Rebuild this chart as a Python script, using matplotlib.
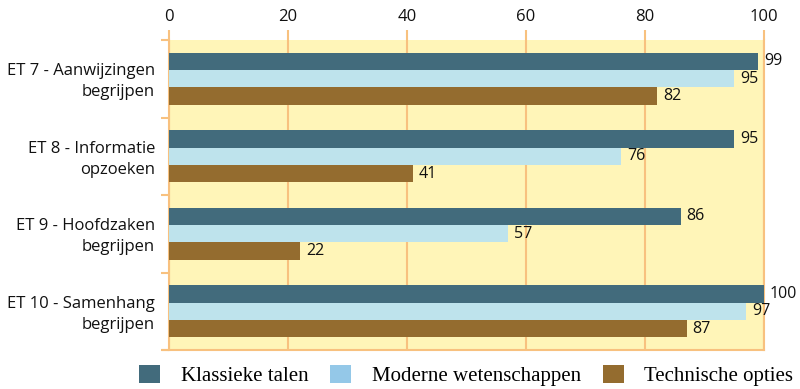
import matplotlib
matplotlib.use("Agg")
import matplotlib.pyplot as plt
import matplotlib.transforms as mtransforms
import numpy as np
from matplotlib.patches import Patch

categories = ["ET 7 - Aanwijzingen\nbegrijpen", "ET 8 - Informatie\nopzoeken",
              "ET 9 - Hoofdzaken\nbegrijpen", "ET 10 - Samenhang\nbegrijpen"]
series_names = ["Klassieke talen", "Moderne wetenschappen", "Technische opties"]
klassieke = [99, 95, 86, 100]
moderne = [95, 76, 57, 97]
technische = [82, 41, 22, 87]
x_ticks = [0, 20, 40, 60, 80, 100]

bar_colors = ["#426b7c", "#bee3ec", "#946c2f"]
legend_colors = ["#426b7c", "#94c8e8", "#946c2f"]
grid_color = "#f8c17f"
bg_color = "#fff5b8"

sans = "Open Sans"

fig = plt.figure(figsize=(8, 3.89), dpi=100)
ax = fig.add_axes([169 / 800, 1 - 350 / 389, (764 - 169) / 800, (350 - 40) / 389])
ax.set_facecolor(bg_color)

n = len(categories)
y = np.arange(n)
h = 0.225
offsets = [-h, 0, h]
for vals, col, off in zip([klassieke, moderne, technische], bar_colors, offsets):
    ax.barh(y + off, vals, height=h, color=col, zorder=3)
    for yi, v in zip(y, vals):
        ax.text(v + 1.0, yi + off, f"{v}", ha="left", va="center",
                fontsize=11.5, family=sans, color="#111111", zorder=4,
                clip_on=False)

ax.set_xlim(0, 100)
ax.set_ylim(n - 0.5, -0.5)
ax.set_xticks(x_ticks)
ax.set_xticklabels([str(t) for t in x_ticks], family=sans, fontsize=12)
ax.xaxis.tick_top()
ax.tick_params(axis="x", which="both", length=7, width=1.5, color=grid_color,
               pad=4, labelcolor="#111111")
ax.grid(axis="x", color=grid_color, linewidth=1.5, zorder=1)

# tick marks only at category boundaries; names drawn as text beside the axis
ax.set_yticks([])
ax.set_yticks(np.arange(n + 1) - 0.5, minor=True)
ax.tick_params(axis="y", which="minor", length=6, width=1.5, color=grid_color)

label_tr = mtransforms.blended_transform_factory(ax.transAxes, ax.transData) + \
    mtransforms.ScaledTranslation(-14 / 100, -3 / 100, fig.dpi_scale_trans)
for yi, name in zip(y, categories):
    ax.text(0, yi, name, transform=label_tr, ha="right", va="center",
            family=sans, fontsize=12, linespacing=1.42, color="#111111",
            multialignment="right")

for s in ["left", "bottom", "right"]:
    ax.spines[s].set_color(grid_color)
    ax.spines[s].set_linewidth(1.5)
ax.spines["top"].set_visible(False)
ax.spines["bottom"].set_bounds(-1.0, 100)

handles = [Patch(facecolor=c, edgecolor="none", label=l)
           for c, l in zip(legend_colors, series_names)]
fig.legend(handles=handles, loc="lower left", bbox_to_anchor=(139 / 800, 1 - 386 / 389),
           ncol=3, frameon=False, prop={"family": "Liberation Serif", "size": 15},
           handlelength=1.0, handleheight=1.0, columnspacing=1.05,
           handletextpad=1.0, borderpad=0.0, borderaxespad=0.0)

fig.savefig("out.png", dpi=100)
